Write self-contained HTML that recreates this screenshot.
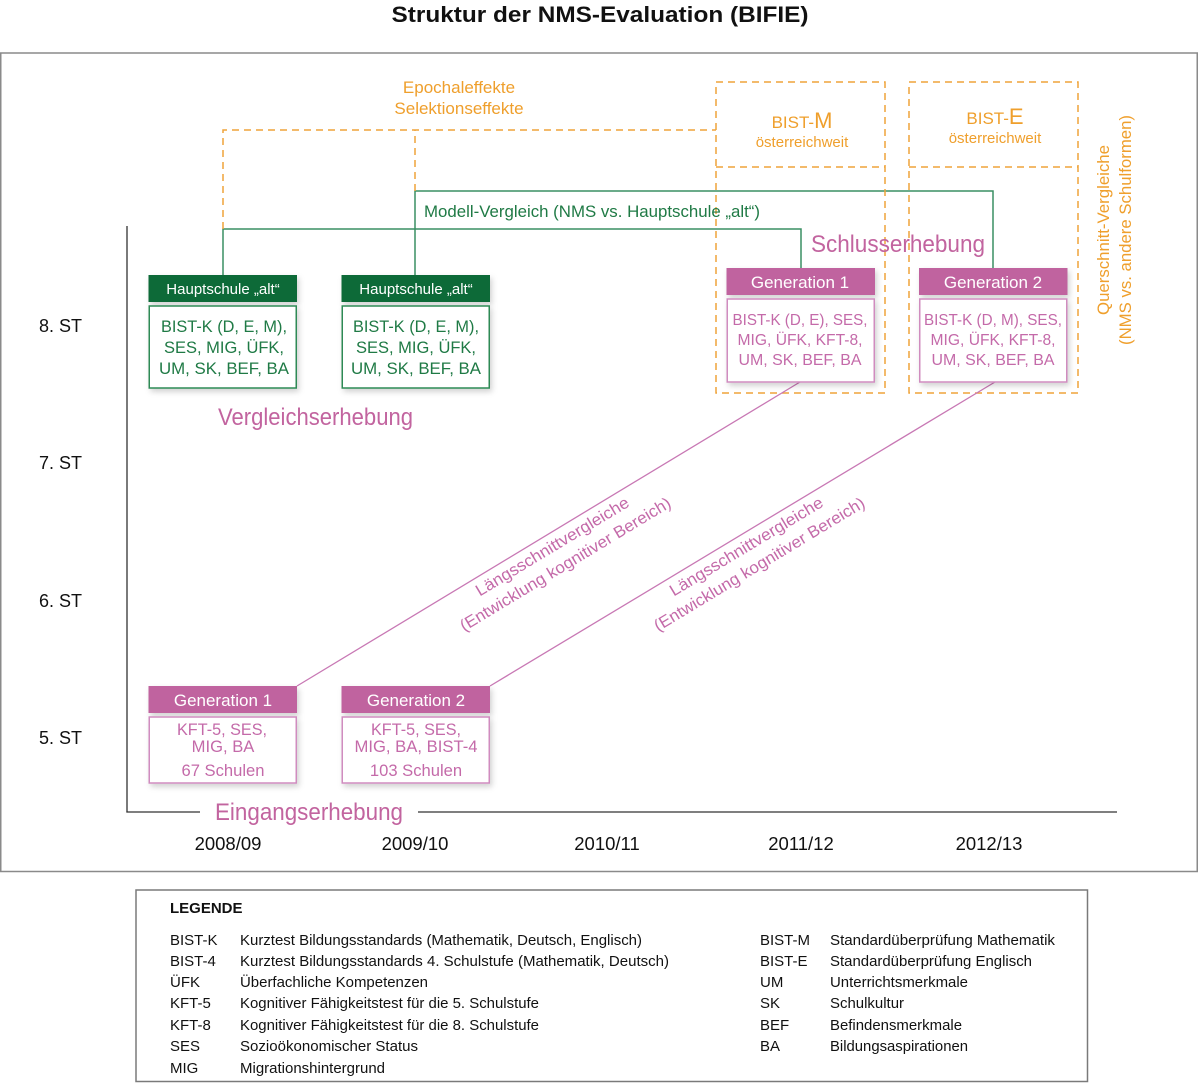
<!DOCTYPE html>
<html>
<head>
<meta charset="utf-8">
<style>
  html,body{margin:0;padding:0;background:#fff;}
  svg{display:block;}
  text{font-family:"Liberation Sans",Arial,sans-serif;}
</style>
</head>
<body>
<svg width="1200" height="1083" viewBox="0 0 1200 1083" xmlns="http://www.w3.org/2000/svg">
  <defs>
    <filter id="sh" x="-20%" y="-20%" width="140%" height="150%">
      <feDropShadow dx="2" dy="3" stdDeviation="3" flood-color="#000" flood-opacity="0.18"/>
    </filter>
  </defs>

  <!-- Title -->
  <text x="600" y="22" text-anchor="middle" font-size="22" font-weight="bold" fill="#111" textLength="417" lengthAdjust="spacingAndGlyphs">Struktur der NMS-Evaluation (BIFIE)</text>

  <!-- Outer frame -->
  <rect x="0.75" y="53" width="1196.5" height="818.5" fill="none" stroke="#8a8a8a" stroke-width="1.5"/>

  <!-- Axes -->
  <line x1="127" y1="226" x2="127" y2="812.5" stroke="#333" stroke-width="1.3"/>
  <line x1="126.4" y1="812" x2="200" y2="812" stroke="#333" stroke-width="1.3"/>
  <line x1="418" y1="812" x2="1117" y2="812" stroke="#333" stroke-width="1.3"/>

  <!-- Y labels -->
  <g font-size="18" fill="#111">
    <text x="39" y="332">8. ST</text>
    <text x="39" y="469">7. ST</text>
    <text x="39" y="607">6. ST</text>
    <text x="39" y="744">5. ST</text>
  </g>
  <!-- X labels -->
  <g font-size="18.5" fill="#111" text-anchor="middle">
    <text x="228" y="850">2008/09</text>
    <text x="415" y="850">2009/10</text>
    <text x="607" y="850">2010/11</text>
    <text x="801" y="850">2011/12</text>
    <text x="989" y="850">2012/13</text>
  </g>

  <!-- Green connectors -->
  <g fill="none" stroke="#3a8f63" stroke-width="1.5">
    <path d="M223 275 V229 H801 V268"/>
    <path d="M415 275 V191 H993 V268"/>
  </g>

  <!-- Orange dashed -->
  <g fill="none" stroke="#efa43a" stroke-width="1.5" stroke-dasharray="7 5">
    <path d="M223 229 V130 H716"/>
    <path d="M415 191 V130"/>
    <rect x="716" y="82" width="169" height="311"/>
    <line x1="716" y1="167" x2="885" y2="167"/>
    <rect x="909" y="82" width="169" height="311"/>
    <line x1="909" y1="167" x2="1078" y2="167"/>
  </g>
  <g fill="#ef9f2c" text-anchor="middle">
    <text x="459" y="93" font-size="17">Epochaleffekte</text>
    <text x="459" y="114" font-size="17">Selektionseffekte</text>
    <text x="802" y="128" font-size="17">BIST-<tspan font-size="22">M</tspan></text>
    <text x="802" y="147" font-size="15">österreichweit</text>
    <text x="995" y="124" font-size="17">BIST-<tspan font-size="22">E</tspan></text>
    <text x="995" y="143" font-size="15">österreichweit</text>
  </g>
  <g fill="#ef9f2c" font-size="17" text-anchor="middle">
    <text transform="translate(1109,230) rotate(-90)" textLength="170" lengthAdjust="spacingAndGlyphs">Querschnitt-Vergleiche</text>
    <text transform="translate(1131,230) rotate(-90)" textLength="230" lengthAdjust="spacingAndGlyphs">(NMS vs. andere Schulformen)</text>
  </g>

  <text x="424" y="217" font-size="17" fill="#1f7a45" textLength="336" lengthAdjust="spacingAndGlyphs">Modell-Vergleich (NMS vs. Hauptschule „alt“)</text>

  <!-- Pink diagonals -->
  <g stroke="#c878b4" stroke-width="1.3">
    <line x1="297" y1="686" x2="800" y2="382"/>
    <line x1="490" y1="686" x2="995" y2="382"/>
  </g>
  <g fill="#c46aa9" font-size="16.5" text-anchor="middle">
    <g transform="translate(552,546) rotate(-31.1)">
      <text x="0" y="6" textLength="176" lengthAdjust="spacingAndGlyphs">Längsschnittvergleiche</text>
      <text x="2" y="28" textLength="243" lengthAdjust="spacingAndGlyphs">(Entwicklung kognitiver Bereich)</text>
    </g>
    <g transform="translate(746,546) rotate(-31.1)">
      <text x="0" y="6" textLength="176" lengthAdjust="spacingAndGlyphs">Längsschnittvergleiche</text>
      <text x="2" y="28" textLength="243" lengthAdjust="spacingAndGlyphs">(Entwicklung kognitiver Bereich)</text>
    </g>
  </g>

  <!-- Green boxes -->
  <g filter="url(#sh)">
    <rect x="148.5" y="275" width="148.5" height="27" fill="#0e6b37"/>
    <rect x="149.25" y="306" width="147" height="82" fill="#fff" stroke="#2f8a55" stroke-width="1.5"/>
    <rect x="341.5" y="275" width="148.5" height="27" fill="#0e6b37"/>
    <rect x="342.25" y="306" width="147" height="82" fill="#fff" stroke="#2f8a55" stroke-width="1.5"/>
  </g>
  <g fill="#fff" font-size="15" text-anchor="middle">
    <text x="223" y="294">Hauptschule „alt“</text>
    <text x="416" y="294">Hauptschule „alt“</text>
  </g>
  <g fill="#1f7a45" font-size="16.4" text-anchor="middle">
    <text x="224" y="332" textLength="126" lengthAdjust="spacingAndGlyphs">BIST-K (D, E, M),</text>
    <text x="224" y="353" textLength="120" lengthAdjust="spacingAndGlyphs">SES, MIG, ÜFK,</text>
    <text x="224" y="374" textLength="130" lengthAdjust="spacingAndGlyphs">UM, SK, BEF, BA</text>
    <text x="416" y="332" textLength="126" lengthAdjust="spacingAndGlyphs">BIST-K (D, E, M),</text>
    <text x="416" y="353" textLength="120" lengthAdjust="spacingAndGlyphs">SES, MIG, ÜFK,</text>
    <text x="416" y="374" textLength="130" lengthAdjust="spacingAndGlyphs">UM, SK, BEF, BA</text>
  </g>

  <!-- Pink boxes 8.ST -->
  <g filter="url(#sh)">
    <rect x="726.5" y="268" width="148.5" height="27" fill="#c0649f"/>
    <rect x="727.25" y="299" width="147" height="83" fill="#fff" stroke="#d08cbf" stroke-width="1.5"/>
    <rect x="919" y="268" width="148.5" height="27" fill="#c0649f"/>
    <rect x="919.75" y="299" width="147" height="83" fill="#fff" stroke="#d08cbf" stroke-width="1.5"/>
  </g>
  <g fill="#fff" font-size="17" text-anchor="middle">
    <text x="800" y="288">Generation 1</text>
    <text x="993" y="288">Generation 2</text>
  </g>
  <g fill="#c46aa9" font-size="15.8" text-anchor="middle">
    <text x="800" y="325" textLength="135" lengthAdjust="spacingAndGlyphs">BIST-K (D, E), SES,</text>
    <text x="800" y="345" textLength="125" lengthAdjust="spacingAndGlyphs">MIG, ÜFK, KFT-8,</text>
    <text x="800" y="365" textLength="123" lengthAdjust="spacingAndGlyphs">UM, SK, BEF, BA</text>
    <text x="993" y="325" textLength="138" lengthAdjust="spacingAndGlyphs">BIST-K (D, M), SES,</text>
    <text x="993" y="345" textLength="125" lengthAdjust="spacingAndGlyphs">MIG, ÜFK, KFT-8,</text>
    <text x="993" y="365" textLength="123" lengthAdjust="spacingAndGlyphs">UM, SK, BEF, BA</text>
  </g>

  <!-- Pink boxes 5.ST -->
  <g filter="url(#sh)">
    <rect x="148.5" y="686" width="148.5" height="27" fill="#c0649f"/>
    <rect x="149.25" y="717" width="147" height="66" fill="#fff" stroke="#d08cbf" stroke-width="1.5"/>
    <rect x="341.5" y="686" width="148.5" height="27" fill="#c0649f"/>
    <rect x="342.25" y="717" width="147" height="66" fill="#fff" stroke="#d08cbf" stroke-width="1.5"/>
  </g>
  <g fill="#fff" font-size="17" text-anchor="middle">
    <text x="223" y="706">Generation 1</text>
    <text x="416" y="706">Generation 2</text>
  </g>
  <g fill="#c46aa9" font-size="16.6" text-anchor="middle">
    <text x="222" y="735" textLength="90" lengthAdjust="spacingAndGlyphs">KFT-5, SES,</text>
    <text x="223" y="752">MIG, BA</text>
    <text x="223" y="776">67 Schulen</text>
    <text x="416" y="735" textLength="90" lengthAdjust="spacingAndGlyphs">KFT-5, SES,</text>
    <text x="416" y="752" textLength="123" lengthAdjust="spacingAndGlyphs">MIG, BA, BIST-4</text>
    <text x="416" y="776">103 Schulen</text>
  </g>

  <!-- Phase labels -->
  <g fill="#c2649f" font-size="24">
    <text x="218" y="425" textLength="195" lengthAdjust="spacingAndGlyphs">Vergleichserhebung</text>
    <text x="811" y="252" textLength="174" lengthAdjust="spacingAndGlyphs">Schlusserhebung</text>
    <text x="215" y="820" textLength="188" lengthAdjust="spacingAndGlyphs">Eingangserhebung</text>
  </g>

  <!-- Legend -->
  <rect x="136" y="890" width="951.5" height="191.5" fill="none" stroke="#7a7a7a" stroke-width="1.5"/>
  <text x="170" y="913" font-size="15" font-weight="bold" fill="#111">LEGENDE</text>
  <g font-size="15" fill="#111">
    <text x="170" y="945">BIST-K</text>
    <text x="170" y="966">BIST-4</text>
    <text x="170" y="987">ÜFK</text>
    <text x="170" y="1008">KFT-5</text>
    <text x="170" y="1030">KFT-8</text>
    <text x="170" y="1051">SES</text>
    <text x="170" y="1073">MIG</text>

    <text x="240" y="945" textLength="402" lengthAdjust="spacingAndGlyphs">Kurztest Bildungsstandards (Mathematik, Deutsch, Englisch)</text>
    <text x="240" y="966" textLength="429" lengthAdjust="spacingAndGlyphs">Kurztest Bildungsstandards 4. Schulstufe (Mathematik, Deutsch)</text>
    <text x="240" y="987" textLength="188" lengthAdjust="spacingAndGlyphs">Überfachliche Kompetenzen</text>
    <text x="240" y="1008" textLength="299" lengthAdjust="spacingAndGlyphs">Kognitiver Fähigkeitstest für die 5. Schulstufe</text>
    <text x="240" y="1030" textLength="299" lengthAdjust="spacingAndGlyphs">Kognitiver Fähigkeitstest für die 8. Schulstufe</text>
    <text x="240" y="1051" textLength="178" lengthAdjust="spacingAndGlyphs">Sozioökonomischer Status</text>
    <text x="240" y="1073" textLength="145" lengthAdjust="spacingAndGlyphs">Migrationshintergrund</text>

    <text x="760" y="945">BIST-M</text>
    <text x="760" y="966">BIST-E</text>
    <text x="760" y="987">UM</text>
    <text x="760" y="1008">SK</text>
    <text x="760" y="1030">BEF</text>
    <text x="760" y="1051">BA</text>

    <text x="830" y="945" textLength="225" lengthAdjust="spacingAndGlyphs">Standardüberprüfung Mathematik</text>
    <text x="830" y="966" textLength="202" lengthAdjust="spacingAndGlyphs">Standardüberprüfung Englisch</text>
    <text x="830" y="987" textLength="138" lengthAdjust="spacingAndGlyphs">Unterrichtsmerkmale</text>
    <text x="830" y="1008" textLength="74" lengthAdjust="spacingAndGlyphs">Schulkultur</text>
    <text x="830" y="1030" textLength="132" lengthAdjust="spacingAndGlyphs">Befindensmerkmale</text>
    <text x="830" y="1051" textLength="138" lengthAdjust="spacingAndGlyphs">Bildungsaspirationen</text>
  </g>
</svg>
</body>
</html>
